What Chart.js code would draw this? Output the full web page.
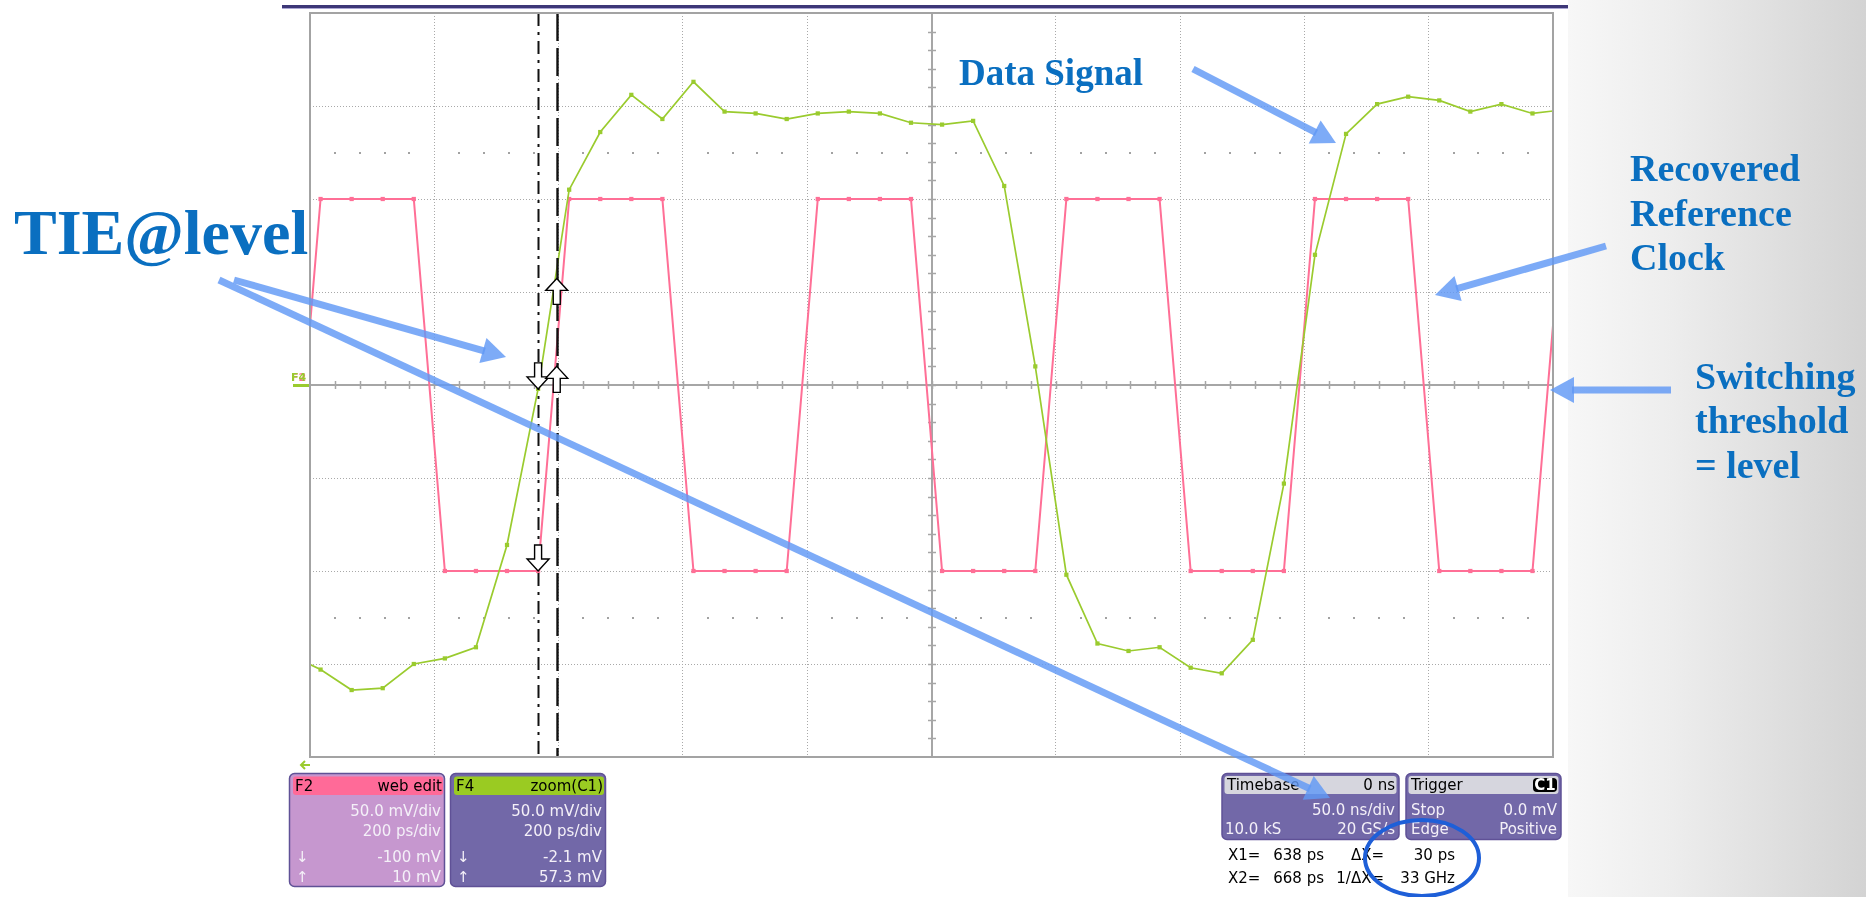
<!DOCTYPE html>
<html>
<head>
<meta charset="utf-8">
<title>TIE@level</title>
<script src="https://cdn.jsdelivr.net/npm/chart.js@4.4.1/dist/chart.umd.min.js"></script>
<style>
  html, body { margin: 0; padding: 0; background: #ffffff; }
  body { width: 1866px; height: 897px; position: relative; overflow: hidden; }
  #side { position: absolute; left: 1568px; top: 0; width: 298px; height: 897px;
          background: linear-gradient(90deg, #f7f7f7 0%, #ededed 35%, #dfdfdf 70%, #d3d3d3 100%); }
  #rule { position: absolute; left: 282px; top: 5px; width: 1286px; height: 3px;
          background: #3d3777; border-bottom: 1px solid #aaa5d2; }
  #scope { position: absolute; left: 0; top: 0; width: 1866px; height: 897px; }
  #overlay { position: absolute; left: 0; top: 0; }
  .box { font-family: "DejaVu Sans", sans-serif; font-size: 15px; }
  .note { font-family: "Liberation Serif", "Times New Roman", serif; font-weight: bold; fill: #0a6fc0; }
</style>
</head>
<body>
<div id="side"></div>
<div id="rule"></div>
<div id="scope"><canvas id="scopeCanvas"></canvas></div>
<svg id="overlay" width="1866" height="897" xmlns="http://www.w3.org/2000/svg"></svg>

<script>
// ---- acquisition: 20 GS/s, one sample every 50 ps ----
const sampleTimesPs = [
  238, 288, 338, 388, 438, 488, 538, 588, 638, 688,
  738, 788, 838, 888, 938, 988, 1038, 1088, 1138, 1188,
  1238, 1288, 1338, 1388, 1438, 1488, 1538, 1588, 1638, 1688,
  1738, 1788, 1838, 1888, 1938, 1988, 2038, 2088, 2138, 2188,
  2238, 2288
];

// F4 = zoom(C1): the data signal, mV
const dataSignalMv = [
  -145, -153, -164, -163, -150, -147, -141, -86, -2.1, 105,
  136, 156, 143, 163, 147, 146, 143, 146, 147, 146,
  141, 140, 142, 107, 10, -102, -139, -143, -141, -152,
  -155, -137, -53, 70, 135, 151, 155, 153, 147, 151,
  146, 148
];

// F2 = web edit: the recovered reference clock, mV
const clockMv = [
  -100, 100, 100, 100, 100, -100, -100, -100, -100, 100,
  100, 100, 100, -100, -100, -100, -100, 100, 100, 100,
  100, -100, -100, -100, -100, 100, 100, 100, 100, -100,
  -100, -100, -100, 100, 100, 100, 100, -100, -100, -100,
  -100, 100
];

// horizontal graticule: 10 divisions of 200 ps
const divisionTimesPs = [271, 471, 671, 871, 1071, 1271, 1471, 1671, 1871, 2071, 2271];
// vertical graticule: 8 divisions of 50 mV
const divisionLevelsMv = [-200, -150, -100, -50, 0, 50, 100, 150, 200];

// cursors X1 / X2 and what they read on each trace
const cursorNames = ['X1', 'X2'];
const cursorTimesPs = [638, 668];
const cursorDataMv = [-2.1, 57.3];
const cursorClockMv = [-100, 10];
const switchingLevelMv = 0;

// panel readouts
const f2Lines = ['50.0 mV/div', '200 ps/div'];
const f4Lines = ['50.0 mV/div', '200 ps/div'];
const timebaseLines = ['0 ns', '50.0 ns/div', '10.0 kS', '20 GS/s'];
const triggerLines = ['C1', 'Stop', '0.0 mV', 'Edge', 'Positive'];
const deltaReadout = ['30 ps', '33 GHz'];

const DATA_COLOR = '#9acb2e';
const CLOCK_COLOR = '#ff6f96';
const GRID_COLOR = '#a9a9a9';

const toPoints = (vals) => sampleTimesPs.map((t, i) => ({ x: t, y: vals[i] }));

function hollowArrow(ctx, px, tipY, dir) {
  // dir = +1 points down, -1 points up
  const hw = 11, hh = 12, sw = 3.5, sl = 14;
  const baseY = tipY - dir * hh;
  const endY = baseY - dir * sl;
  ctx.beginPath();
  ctx.moveTo(px, tipY);
  ctx.lineTo(px + hw, baseY);
  ctx.lineTo(px + sw, baseY);
  ctx.lineTo(px + sw, endY);
  ctx.lineTo(px - sw, endY);
  ctx.lineTo(px - sw, baseY);
  ctx.lineTo(px - hw, baseY);
  ctx.closePath();
  ctx.fillStyle = '#ffffff';
  ctx.fill();
  ctx.strokeStyle = '#000000';
  ctx.lineWidth = 1.4;
  ctx.stroke();
}

const graticule = {
  id: 'graticule',
  beforeDatasetsDraw(chart) {
    const { ctx, chartArea: a, scales: { x, y } } = chart;
    const xMin = divisionTimesPs[0];
    const xMax = divisionTimesPs[divisionTimesPs.length - 1];
    const xMid = divisionTimesPs[5];
    const x0 = Math.round(x.getPixelForValue(xMid));
    const y0 = Math.round(y.getPixelForValue(0));
    ctx.save();
    // dotted rows half a division inside the outer gridlines
    ctx.fillStyle = '#a2a2a2';
    [125, -125].forEach(v => {
      const py = Math.round(y.getPixelForValue(v));
      for (let t = xMin; t <= xMax; t += 40) {
        if ((t - xMin) % 200 === 0) continue;
        ctx.fillRect(Math.round(x.getPixelForValue(t)) - 1, py - 1, 2, 2);
      }
    });
    // centre axes
    ctx.strokeStyle = '#a6a6a6';
    ctx.lineWidth = 2;
    ctx.beginPath();
    ctx.moveTo(a.left, y0); ctx.lineTo(a.right, y0);
    ctx.moveTo(x0, a.top); ctx.lineTo(x0, a.bottom);
    ctx.stroke();
    // minor ticks, five per division
    ctx.lineWidth = 1.5;
    ctx.beginPath();
    for (let t = xMin + 40; t < xMax; t += 40) {
      const px = Math.round(x.getPixelForValue(t)) + 0.5;
      ctx.moveTo(px, y0 - 4); ctx.lineTo(px, y0 + 4);
    }
    for (let v = -190; v < 200; v += 10) {
      const py = Math.round(y.getPixelForValue(v)) + 0.5;
      ctx.moveTo(x0 - 4, py); ctx.lineTo(x0 + 4, py);
    }
    ctx.stroke();
    ctx.restore();
  },
  afterDatasetsDraw(chart) {
    const { ctx, chartArea: a, scales: { x, y } } = chart;
    ctx.save();
    // cursor lines
    const patterns = [[13, 6, 3, 6], [28, 7]];
    const widths = [2, 2.4];
    cursorTimesPs.forEach((t, i) => {
      const px = Math.round(x.getPixelForValue(t)) + 0.5;
      ctx.setLineDash(patterns[i]);
      ctx.lineWidth = widths[i];
      ctx.strokeStyle = '#111111';
      ctx.beginPath();
      ctx.moveTo(px, a.top); ctx.lineTo(px, a.bottom);
      ctx.stroke();
    });
    ctx.setLineDash([]);
    // cursor intersection markers
    cursorTimesPs.forEach((t, i) => {
      const px = x.getPixelForValue(t);
      const dir = i === 0 ? 1 : -1;
      hollowArrow(ctx, px, y.getPixelForValue(cursorDataMv[i]), dir);
      hollowArrow(ctx, px, y.getPixelForValue(cursorClockMv[i]), dir);
    });
    // frame
    ctx.strokeStyle = '#a3a3a3';
    ctx.lineWidth = 2;
    ctx.strokeRect(a.left, a.top, a.right - a.left, a.bottom - a.top);
    // trace level markers at the left edge
    const yl = Math.round(y.getPixelForValue(switchingLevelMv));
    ctx.font = 'bold 11px "DejaVu Sans", sans-serif';
    ctx.textBaseline = 'alphabetic';
    ctx.fillStyle = CLOCK_COLOR;
    ctx.fillText('F2', a.left - 19, yl - 4);
    ctx.fillStyle = DATA_COLOR;
    ctx.fillText('F4', a.left - 19, yl - 4);
    ctx.fillRect(a.left - 17, yl - 1, 16, 3);
    // off-screen indicator below the grid
    ctx.strokeStyle = DATA_COLOR;
    ctx.lineWidth = 2;
    const ay = a.bottom + 8, ax = a.left - 9;
    ctx.beginPath();
    ctx.moveTo(ax + 9, ay); ctx.lineTo(ax, ay);
    ctx.moveTo(ax + 4, ay - 4); ctx.lineTo(ax, ay); ctx.lineTo(ax + 4, ay + 4);
    ctx.stroke();
    ctx.restore();
  }
};

new Chart(document.getElementById('scopeCanvas'), {
  type: 'line',
  data: {
    datasets: [
      {
        label: 'F4 zoom(C1)',
        data: toPoints(dataSignalMv),
        borderColor: DATA_COLOR,
        backgroundColor: DATA_COLOR,
        borderWidth: 1.7,
        pointStyle: 'rect',
        pointRadius: 3,
        pointBorderWidth: 0,
        pointBackgroundColor: DATA_COLOR,
        tension: 0,
        clip: 0,
        order: 1
      },
      {
        label: 'F2 web edit',
        data: toPoints(clockMv),
        borderColor: CLOCK_COLOR,
        backgroundColor: CLOCK_COLOR,
        borderWidth: 2,
        pointStyle: 'rect',
        pointRadius: 3,
        pointBorderWidth: 0,
        pointBackgroundColor: CLOCK_COLOR,
        tension: 0,
        clip: 0,
        order: 2
      }
    ]
  },
  options: {
    responsive: true,
    maintainAspectRatio: false,
    animation: false,
    devicePixelRatio: 1,
    events: [],
    layout: { padding: { left: 310, top: 13, right: 313, bottom: 140 } },
    plugins: { legend: { display: false }, tooltip: { enabled: false } },
    scales: {
      x: {
        type: 'linear',
        min: divisionTimesPs[0],
        max: divisionTimesPs[divisionTimesPs.length - 1],
        afterBuildTicks: (s) => { s.ticks = divisionTimesPs.map(v => ({ value: v })); },
        ticks: { display: false },
        grid: { color: GRID_COLOR, lineWidth: 1, drawTicks: false },
        border: { display: false, dash: [1, 2] }
      },
      y: {
        type: 'linear',
        min: divisionLevelsMv[0],
        max: divisionLevelsMv[divisionLevelsMv.length - 1],
        afterBuildTicks: (s) => { s.ticks = divisionLevelsMv.map(v => ({ value: v })); },
        ticks: { display: false },
        grid: { color: GRID_COLOR, lineWidth: 1, drawTicks: false },
        border: { display: false, dash: [1, 2] }
      }
    }
  },
  plugins: [graticule]
});

// ---- panels, readouts and callouts ----
const NS = 'http://www.w3.org/2000/svg';
const svg = document.getElementById('overlay');
function el(tag, attrs, text) {
  const e = document.createElementNS(NS, tag);
  for (const k in attrs) e.setAttribute(k, attrs[k]);
  if (text !== undefined) e.textContent = text;
  svg.appendChild(e);
  return e;
}
function txt(x, y, s, fill, anchor, extra) {
  return el('text', Object.assign({ x, y, fill, 'text-anchor': anchor || 'start', class: 'box' }, extra || {}), s);
}
const fmtMv = (v) => `${v} mV`;

// F2 / F4 channel panels
function channelPanel(left, body, head, name, desc, lines, readX1, readX2) {
  el('rect', { x: left + 0.5, y: 773.5, width: 155, height: 113, rx: 5, fill: body, stroke: '#5f5196', 'stroke-width': 1.5 });
  el('rect', { x: left + 4, y: 776.5, width: 150, height: 18.5, rx: 3, fill: head });
  txt(left + 6, 791, name, '#000');
  txt(left + 153, 791, desc, '#000', 'end');
  txt(left + 152, 816, lines[0], '#f4f0f8', 'end');
  txt(left + 152, 836, lines[1], '#f4f0f8', 'end');
  txt(left + 7, 862, '\u2193', '#f4f0f8');
  txt(left + 152, 862, readX1, '#f4f0f8', 'end');
  txt(left + 7, 882, '\u2191', '#f4f0f8');
  txt(left + 152, 882, readX2, '#f4f0f8', 'end');
}
channelPanel(289, '#c697cf', '#ff6a98', 'F2', 'web edit', f2Lines, fmtMv(cursorClockMv[0]), fmtMv(cursorClockMv[1]));
channelPanel(450, '#7268a8', '#9acb22', 'F4', 'zoom(C1)', f4Lines, fmtMv(cursorDataMv[0]), fmtMv(cursorDataMv[1]));

// Timebase panel
el('rect', { x: 1222, y: 773.5, width: 177, height: 66, rx: 5, fill: '#7268a8', stroke: '#5f5196', 'stroke-width': 1.5 });
el('rect', { x: 1224.5, y: 776, width: 172, height: 18, rx: 3, fill: '#d6d6de' });
txt(1227, 790, 'Timebase', '#000');
txt(1395, 790, timebaseLines[0], '#000', 'end');
txt(1395, 815, timebaseLines[1], '#f4f0f8', 'end');
txt(1225, 834, timebaseLines[2], '#f4f0f8');
txt(1395, 834, timebaseLines[3], '#f4f0f8', 'end');

// Trigger panel
el('rect', { x: 1406, y: 773.5, width: 155, height: 66, rx: 5, fill: '#7268a8', stroke: '#5f5196', 'stroke-width': 1.5 });
el('rect', { x: 1408.5, y: 776, width: 150, height: 18, rx: 3, fill: '#d6d6de' });
txt(1411, 790, 'Trigger', '#000');
el('rect', { x: 1533, y: 778, width: 24, height: 14, rx: 4, fill: '#000' });
txt(1545, 789.5, triggerLines[0], '#fff', 'middle', { 'font-size': '11', 'font-weight': 'bold' });
txt(1411, 815, triggerLines[1], '#f4f0f8');
txt(1557, 815, triggerLines[2], '#f4f0f8', 'end');
txt(1411, 834, triggerLines[3], '#f4f0f8');
txt(1557, 834, triggerLines[4], '#f4f0f8', 'end');

// cursor readouts
const rowY = [860, 882.5];
cursorNames.forEach((n, i) => {
  txt(1228, rowY[i], `${n}=`, '#000');
  txt(1324, rowY[i], `${cursorTimesPs[i]} ps`, '#000', 'end');
});
txt(1384, rowY[0], '\u0394X=', '#000', 'end');
txt(1384, rowY[1], '1/\u0394X=', '#000', 'end');
txt(1455, rowY[0], deltaReadout[0], '#000', 'end');
txt(1455, rowY[1], deltaReadout[1], '#000', 'end');

// callout text
function note(x, y, s, size) {
  el('text', { x, y, class: 'note', 'font-size': size }, s);
}
note(14, 254, 'TIE@level', 64);
note(959, 85, 'Data Signal', 37);
note(1630, 181, 'Recovered', 38);
note(1630, 226, 'Reference', 38);
note(1630, 270, 'Clock', 38);
note(1695, 389, 'Switching', 38);
note(1695, 433, 'threshold', 38);
note(1695, 478, '= level', 38);

// callout arrows
const ARROW = 'rgba(96, 152, 245, 0.82)';
function arrow(x1, y1, x2, y2) {
  const dx = x2 - x1, dy = y2 - y1, len = Math.hypot(dx, dy);
  const ux = dx / len, uy = dy / len;
  const hl = 24, hw = 13;
  const bx = x2 - ux * hl, by = y2 - uy * hl;
  el('line', { x1, y1, x2: bx + ux * 2, y2: by + uy * 2, stroke: ARROW, 'stroke-width': 7 });
  el('polygon', {
    points: `${x2},${y2} ${bx - uy * hw},${by + ux * hw} ${bx + uy * hw},${by - ux * hw}`,
    fill: ARROW
  });
}
arrow(1193, 69, 1336, 143);
arrow(1606, 246, 1435, 295);
arrow(1671, 390, 1550, 390);
arrow(234, 280, 506, 357);
arrow(219, 280, 1330, 798);

// highlight round the delta readout
el('ellipse', { cx: 1422, cy: 858, rx: 57, ry: 38, fill: 'none', stroke: '#1e5fd8', 'stroke-width': 4 });
</script>
</body>
</html>
